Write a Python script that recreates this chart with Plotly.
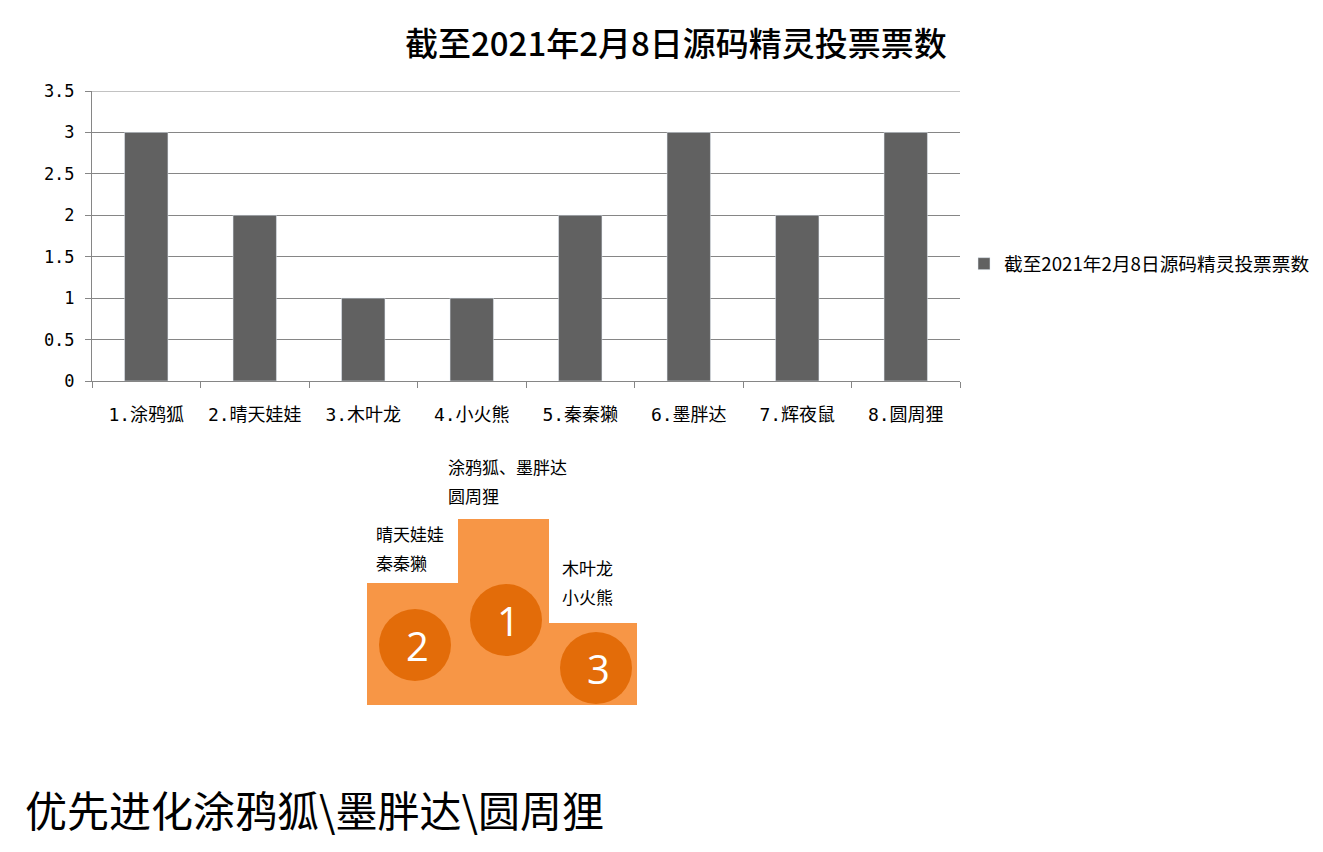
import plotly.graph_objects as go

categories = ["1.涂鸦狐", "2.晴天娃娃", "3.木叶龙", "4.小火熊", "5.秦秦獭", "6.墨胖达", "7.辉夜鼠", "8.圆周狸"]
votes = [3, 2, 1, 1, 2, 3, 2, 3]
series_name = "截至2021年2月8日源码精灵投票票数"
y_ticks = [0, 0.5, 1, 1.5, 2, 2.5, 3, 3.5]
y_tick_text = ["0", "0.5", "1", "1.5", "2", "2.5", "3", "3.5"]
y_max = 3.5

# page has an 8px body margin; figure sized so page fits the 1323x852 window
OFF = 8
W, H = 1323 - 2 * OFF, 852 - 2 * OFF
FONT = "DejaVu Sans Mono, Noto Sans CJK SC"
CJK = "Noto Sans CJK SC"
GRID = "#868686"


def px(x):
    return (x - OFF) / W


def py(y):
    return 1 - (y - OFF) / H


fig = go.Figure()
fig.add_trace(go.Bar(x=categories, y=votes, name=series_name, marker_color="#616161",
                     showlegend=True))

shapes = []
annotations = []

# top gridline at the axis maximum
shapes.append(dict(type="line", xref="x domain", yref="y", x0=0, x1=1, y0=y_max, y1=y_max,
                   line=dict(color=GRID, width=1), layer="below"))

orange = "#F79646"
dark = "#E36C09"
for x0, y0, x1, y1 in [(367, 583, 459, 705), (458, 519, 549, 705), (548, 623, 637, 705)]:
    shapes.append(dict(type="rect", xref="paper", yref="paper", x0=px(x0), x1=px(x1),
                       y0=py(y1), y1=py(y0), fillcolor=orange, line=dict(width=0), layer="above"))
for cx, cy, num in [(415, 645, "2"), (506, 620, "1"), (596, 668, "3")]:
    r = 36
    shapes.append(dict(type="circle", xref="paper", yref="paper", x0=px(cx - r), x1=px(cx + r),
                       y0=py(cy + r), y1=py(cy - r), fillcolor=dark, line=dict(width=0), layer="above"))
    annotations.append(dict(text=num, x=px(cx + 2), y=py(cy), xref="paper", yref="paper",
                            showarrow=False, font=dict(size=40, color="white", family="Open Sans"),
                            xanchor="center", yanchor="middle"))

podium_text = [
    (446, 466, "涂鸦狐、墨胖达"), (446, 495, "圆周狸"),
    (374, 533, "晴天娃娃"), (374, 562, "秦秦獭"),
    (560, 567, "木叶龙"), (560, 596, "小火熊"),
]
for x, y, t in podium_text:
    annotations.append(dict(text=t, x=px(x), y=py(y), xref="paper", yref="paper", showarrow=False,
                            font=dict(size=17, color="black", family=CJK),
                            xanchor="left", yanchor="middle"))

annotations.append(dict(text="优先进化涂鸦狐\\墨胖达\\圆周狸", x=px(23), y=py(808), xref="paper",
                        yref="paper", showarrow=False, font=dict(size=42, color="black", family=CJK),
                        xanchor="left", yanchor="middle"))
annotations.append(dict(text=series_name, x=px(676), y=py(42), xref="paper",
                        yref="paper", showarrow=False,
                        font=dict(size=33, color="black", family=CJK, weight=500),
                        xanchor="center", yanchor="middle"))

fig.update_layout(
    width=W, height=H,
    margin=dict(l=0, r=0, t=0, b=0, autoexpand=False),
    paper_bgcolor="white", plot_bgcolor="white",
    bargap=0.6,
    shapes=shapes, annotations=annotations,
    legend=dict(x=px(964), y=py(264), xanchor="left", yanchor="middle",
                font=dict(size=18.7, family=CJK, color="black"), itemwidth=30,
                bgcolor="rgba(0,0,0,0)"),
    xaxis=dict(domain=[px(92), px(960)], showgrid=False, showline=True, linecolor=GRID,
               linewidth=1, ticks="outside", tickson="boundaries", ticklen=6, tickcolor=GRID,
               tickfont=dict(size=18, family=FONT, color="black"), ticklabelstandoff=17,
               anchor="y", fixedrange=True),
    yaxis=dict(domain=[py(381), py(91)], range=[0, y_max], tickvals=y_ticks, ticktext=y_tick_text,
               showgrid=True, gridcolor=GRID, gridwidth=1, showline=True, linecolor=GRID,
               ticks="outside", ticklen=6, tickcolor=GRID, zeroline=False,
               tickfont=dict(size=17, family=FONT, color="black"), ticklabelstandoff=7),
)

fig.write_html("out.html")
